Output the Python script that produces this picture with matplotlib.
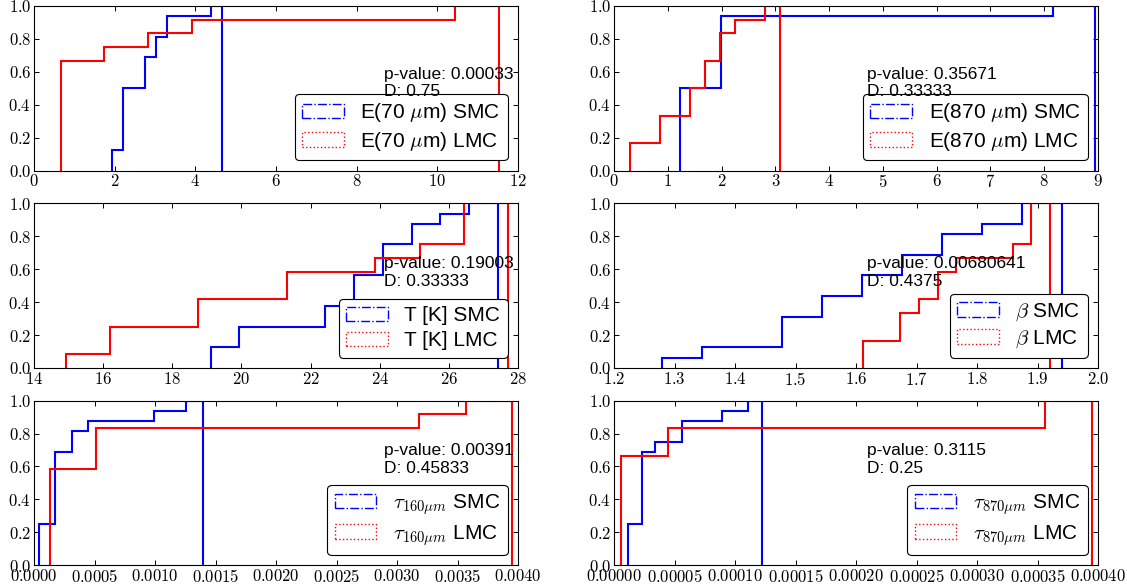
import numpy as np
import matplotlib
matplotlib.use("Agg")
import matplotlib.pyplot as plt
from matplotlib.patches import Patch
from matplotlib.ticker import FormatStrFormatter, FixedLocator

plt.rcParams['font.family'] = ['Liberation Sans', 'DejaVu Sans']
plt.rcParams['mathtext.fontset'] = 'cm'
plt.rcParams['axes.linewidth'] = 0.8

# ---- samples (SMC: 16 sources, LMC: 12 sources) ----
e70_smc = [1.926, 2.10, 2.22, 2.26, 2.31, 2.36, 2.40, 2.45, 2.78, 2.85, 2.95,
           3.08, 3.20, 3.35, 3.48, 4.67]
e70_lmc = [0.66, 0.75, 0.82, 0.95, 1.05, 1.20, 1.35, 1.55, 2.20, 3.30, 4.50, 11.53]

e870_smc = [1.22, 1.30, 1.40, 1.50, 1.60, 1.70, 1.80, 1.90, 2.05, 2.10, 2.20,
            2.30, 2.40, 2.50, 2.60, 8.94]
e870_lmc = [0.30, 0.45, 0.95, 1.05, 1.50, 1.60, 1.75, 1.85, 2.05, 2.15, 2.40, 3.08]

t_smc = [19.11, 19.50, 20.20, 20.50, 22.70, 23.00, 23.40, 23.60, 23.90, 24.30,
         24.50, 24.70, 25.20, 25.50, 26.10, 27.41]
t_lmc = [14.92, 16.50, 17.00, 19.00, 19.60, 21.60, 22.20, 24.50, 25.80, 26.80,
         27.20, 27.71]

beta_smc = [1.28, 1.37, 1.49, 1.51, 1.53, 1.56, 1.59, 1.63, 1.65, 1.70, 1.72,
            1.76, 1.79, 1.84, 1.90, 1.94]
beta_lmc = [1.611, 1.63, 1.68, 1.69, 1.72, 1.745, 1.755, 1.78, 1.87, 1.90, 1.91, 1.921]

tau160_smc = [4.13e-5, 8.0e-5, 1.1e-4, 1.5e-4, 1.8e-4, 1.9e-4, 2.0e-4, 2.2e-4,
              2.4e-4, 2.6e-4, 2.9e-4, 3.4e-4, 4.0e-4, 5.0e-4, 1.05e-3, 1.394e-3]
tau160_lmc = [1.3e-4, 1.6e-4, 2.0e-4, 2.5e-4, 3.0e-4, 3.6e-4, 4.4e-4, 5.6e-4,
              6.5e-4, 8.0e-4, 3.3e-3, 3.948e-3]

tau870_smc = [1.18e-5, 1.4e-5, 1.7e-5, 2.0e-5, 2.35e-5, 2.5e-5, 2.6e-5, 2.8e-5,
              2.9e-5, 3.1e-5, 3.3e-5, 4.0e-5, 6.0e-5, 6.4e-5, 9.5e-5, 1.221e-4]
tau870_lmc = [5.5e-6, 8.0e-6, 1.2e-5, 1.6e-5, 2.1e-5, 2.6e-5, 3.2e-5, 3.9e-5,
              5.0e-5, 6.5e-5, 3.7e-4, 3.948e-4]

# ---- labels and KS statistics ----
quantity_labels = [r'E(70 $\mu$m)', r'E(870 $\mu$m)', r'T [K]', r'$\beta$',
                   r'$\tau_{160\mu m}$', r'$\tau_{870\mu m}$']
p_values = ['0.00033', '0.35671', '0.19003', '0.00680641', '0.00391', '0.3115']
d_values = ['0.75', '0.33333', '0.33333', '0.4375', '0.45833', '0.25']

# ---- axis ticks ----
e70_ticks = [0, 2, 4, 6, 8, 10, 12]
e870_ticks = [0, 1, 2, 3, 4, 5, 6, 7, 8, 9]
t_ticks = [14, 16, 18, 20, 22, 24, 26, 28]
beta_ticks = [1.2, 1.3, 1.4, 1.5, 1.6, 1.7, 1.8, 1.9, 2.0]
tau160_ticks = [0.0, 0.0005, 0.0010, 0.0015, 0.0020, 0.0025, 0.0030, 0.0035, 0.0040]
tau870_ticks = [0.0, 0.00005, 0.00010, 0.00015, 0.00020, 0.00025, 0.00030,
                0.00035, 0.00040]
y_ticks = [0.0, 0.2, 0.4, 0.6, 0.8, 1.0]

panels = [
    (e70_smc, e70_lmc, e70_ticks, '$%d$'),
    (e870_smc, e870_lmc, e870_ticks, '$%d$'),
    (t_smc, t_lmc, t_ticks, '$%d$'),
    (beta_smc, beta_lmc, beta_ticks, '$%.1f$'),
    (tau160_smc, tau160_lmc, tau160_ticks, '$%.4f$'),
    (tau870_smc, tau870_lmc, tau870_ticks, '$%.5f$'),
]

W, H = 1127, 588
fig = plt.figure(figsize=(W / 100, H / 100), dpi=100)

col_left = [34 / W, 614 / W]
ax_w = 484 / W
row_bottom = [1 - 170.7 / H, 1 - 368.0 / H, 1 - 565.3 / H]
ax_h = 164.7 / H
text_x = [0.724, 0.523]
text_y = [0.630, 0.678, 0.740]

for i, (smc, lmc, ticks, fmt) in enumerate(panels):
    r, c = divmod(i, 2)
    ax = fig.add_axes([col_left[c], row_bottom[r], ax_w, ax_h])

    ax.hist(smc, bins=10, density=True, cumulative=True, histtype='step',
            color='b', lw=1.5)
    ax.hist(lmc, bins=10, density=True, cumulative=True, histtype='step',
            color='r', lw=1.5)

    ax.set_xlim(ticks[0], ticks[-1])
    ax.set_ylim(0, 1)
    ax.xaxis.set_major_locator(FixedLocator(ticks))
    ax.yaxis.set_major_locator(FixedLocator(y_ticks))
    ax.xaxis.set_major_formatter(FormatStrFormatter(fmt))
    ax.yaxis.set_major_formatter(FormatStrFormatter('$%.1f$'))
    ax.tick_params(which='both', direction='in', top=True, right=True,
                   length=3.5, width=0.7, labelsize=12, pad=2, colors='black')

    ax.text(text_x[c], text_y[r], 'p-value: %s\nD: %s' % (p_values[i], d_values[i]),
            transform=ax.transAxes, ha='left', va='top', fontsize=12.5, zorder=6)

    handles = [Patch(facecolor='none', edgecolor='b', linestyle='dashdot', lw=1.0),
               Patch(facecolor='none', edgecolor='r', linestyle='dotted', lw=1.0)]
    labels = [quantity_labels[i] + ' SMC', quantity_labels[i] + ' LMC']
    leg = ax.legend(handles, labels, loc='lower right', fontsize=15,
                    labelspacing=0.28, borderpad=0.35,
                    fancybox=True, framealpha=1.0, edgecolor='black')
    leg.get_frame().set_linewidth(0.8)

fig.savefig('out.png', dpi=100)
